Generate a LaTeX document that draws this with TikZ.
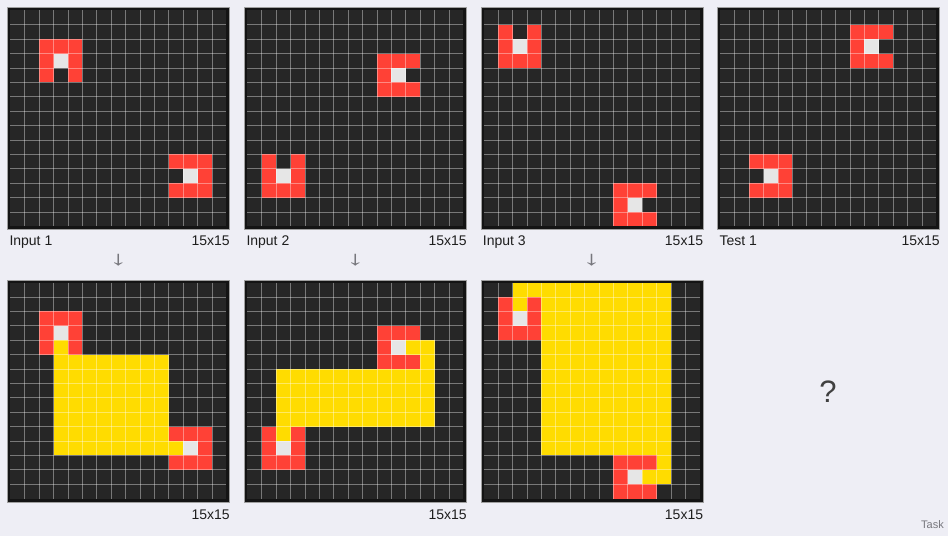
\documentclass[tikz,border=0pt]{standalone}
\usepackage{fontspec}
\setmainfont{Liberation Sans}
\usetikzlibrary{positioning}
\definecolor{page}{HTML}{EEEEF5}
\definecolor{cellbg}{HTML}{262626}
\definecolor{frame}{HTML}{141414}
\definecolor{arcred}{HTML}{FF4136}
\definecolor{arcyellow}{HTML}{FFDC00}
\definecolor{arcwhite}{HTML}{E6E6E6}
\definecolor{ink}{HTML}{1E1E1E}
\definecolor{muted}{HTML}{77777D}
\tikzset{
  every node/.style={text=ink,inner sep=0pt},
  gridframe/.style={fill=frame,draw=gray!75,line width=0.6pt,minimum size=222pt,anchor=north west},
  gridline/.style={draw=white,draw opacity=0.38,line width=0.7pt},
  caption/.style={font=\fontsize{14}{16}\selectfont},
  inlabel/.style={caption,anchor=base west},
  sizelabel/.style={caption,anchor=base east},
  downmark/.style={font=\fontsize{20}{24}\selectfont,text=muted},
}
% cells: row1, col1, row2, col2, colour
\newcommand{\fillcells}[5]{\fill[#5] ({3+(#2)*14.4},{3+(#1)*14.4}) rectangle ({3+((#4)+1)*14.4},{3+((#3)+1)*14.4});}
% ring: top row, left col, open row, open col, open colour
\newcommand{\ringblock}[5]{%
  \fillcells{#1}{#2}{#1+2}{#2+2}{arcred}
  \fillcells{#1+1}{#2+1}{#1+1}{#2+1}{arcwhite}
  \fillcells{#3}{#4}{#3}{#4}{#5}}
\newcommand{\gridbase}{\fillcells{0}{0}{14}{14}{cellbg}}
\newcommand{\gridlines}{%
  \foreach \i in {1,...,14} {
    \draw[gridline] ({3+\i*14.4},3) -- ++(0,216);
    \draw[gridline] (3,{3+\i*14.4}) -- ++(216,0);
  }}
\newcommand{\downglyph}{\scalebox{1.8}[1]{↓}}

\begin{document}
\begin{tikzpicture}[x=1pt,y=-1pt]
  \fill[page] (0,0) rectangle (948,536);
  \useasboundingbox (0,0) rectangle (948,536);

  % inputs
  \begin{scope}[shift={(7.3,7.3)}]
    \node[gridframe] (in1) at (0,0) {};
    \gridbase
    \ringblock{2}{2}{4}{3}{cellbg}
    \ringblock{10}{11}{11}{11}{cellbg}
    \gridlines
  \end{scope}
  \begin{scope}[shift={(244.3,7.3)}]
    \node[gridframe] (in2) at (0,0) {};
    \gridbase
    \ringblock{3}{9}{4}{11}{cellbg}
    \ringblock{10}{1}{10}{2}{cellbg}
    \gridlines
  \end{scope}
  \begin{scope}[shift={(480.7,7.3)}]
    \node[gridframe] (in3) at (0,0) {};
    \gridbase
    \ringblock{1}{1}{1}{2}{cellbg}
    \ringblock{12}{9}{13}{11}{cellbg}
    \gridlines
  \end{scope}
  \begin{scope}[shift={(717.3,7.3)}]
    \node[gridframe] (test1) at (0,0) {};
    \gridbase
    \ringblock{1}{9}{2}{11}{cellbg}
    \ringblock{10}{2}{11}{2}{cellbg}
    \gridlines
  \end{scope}

  % outputs
  \begin{scope}[shift={(7.3,279.5)}]
    \node[gridframe] (out1) at (0,0) {};
    \gridbase
    \fillcells{5}{3}{11}{10}{arcyellow}
    \ringblock{2}{2}{4}{3}{arcyellow}
    \ringblock{10}{11}{11}{11}{arcyellow}
    \gridlines
  \end{scope}
  \begin{scope}[shift={(244.3,279.5)}]
    \node[gridframe] (out2) at (0,0) {};
    \gridbase
    \fillcells{6}{2}{9}{12}{arcyellow}
    \fillcells{4}{12}{5}{12}{arcyellow}
    \ringblock{3}{9}{4}{11}{arcyellow}
    \ringblock{10}{1}{10}{2}{arcyellow}
    \gridlines
  \end{scope}
  \begin{scope}[shift={(480.7,279.5)}]
    \node[gridframe] (out3) at (0,0) {};
    \gridbase
    \fillcells{0}{2}{0}{12}{arcyellow}
    \fillcells{1}{4}{11}{12}{arcyellow}
    \fillcells{12}{12}{13}{12}{arcyellow}
    \ringblock{1}{1}{1}{2}{arcyellow}
    \ringblock{12}{9}{13}{11}{arcyellow}
    \gridlines
  \end{scope}

  % captions
  \node[inlabel] (lin1) at ([xshift=2pt,yshift=-15.5pt]in1.south west) {Input 1};
  \node[sizelabel] (sin1) at ([yshift=-15.5pt]in1.south east) {15x15};
  \node[inlabel] (lin2) at ([xshift=2pt,yshift=-15.5pt]in2.south west) {Input 2};
  \node[sizelabel] (sin2) at ([yshift=-15.5pt]in2.south east) {15x15};
  \node[inlabel] (lin3) at ([xshift=2pt,yshift=-15.5pt]in3.south west) {Input 3};
  \node[sizelabel] (sin3) at ([yshift=-15.5pt]in3.south east) {15x15};
  \node[inlabel] (ltest1) at ([xshift=2pt,yshift=-15.5pt]test1.south west) {Test 1};
  \node[sizelabel] (stest1) at ([yshift=-15.5pt]test1.south east) {15x15};
  \node[sizelabel] (sout1) at ([yshift=-17pt]out1.south east) {15x15};
  \node[sizelabel] (sout2) at ([yshift=-17pt]out2.south east) {15x15};
  \node[sizelabel] (sout3) at ([yshift=-17pt]out3.south east) {15x15};

  \node[downmark] (arr1) at (118.3,260) {\downglyph};
  \node[downmark] (arr2) at (355.3,260) {\downglyph};
  \node[downmark] (arr3) at (591.7,260) {\downglyph};

  \node[font=\fontsize{31}{34}\selectfont,text=ink!85] (ask) at (828,392) {?};
  \node[font=\fontsize{11}{13}\selectfont,text=muted,anchor=base east] (task) at (944,528) {Task};
\end{tikzpicture}
\end{document}
